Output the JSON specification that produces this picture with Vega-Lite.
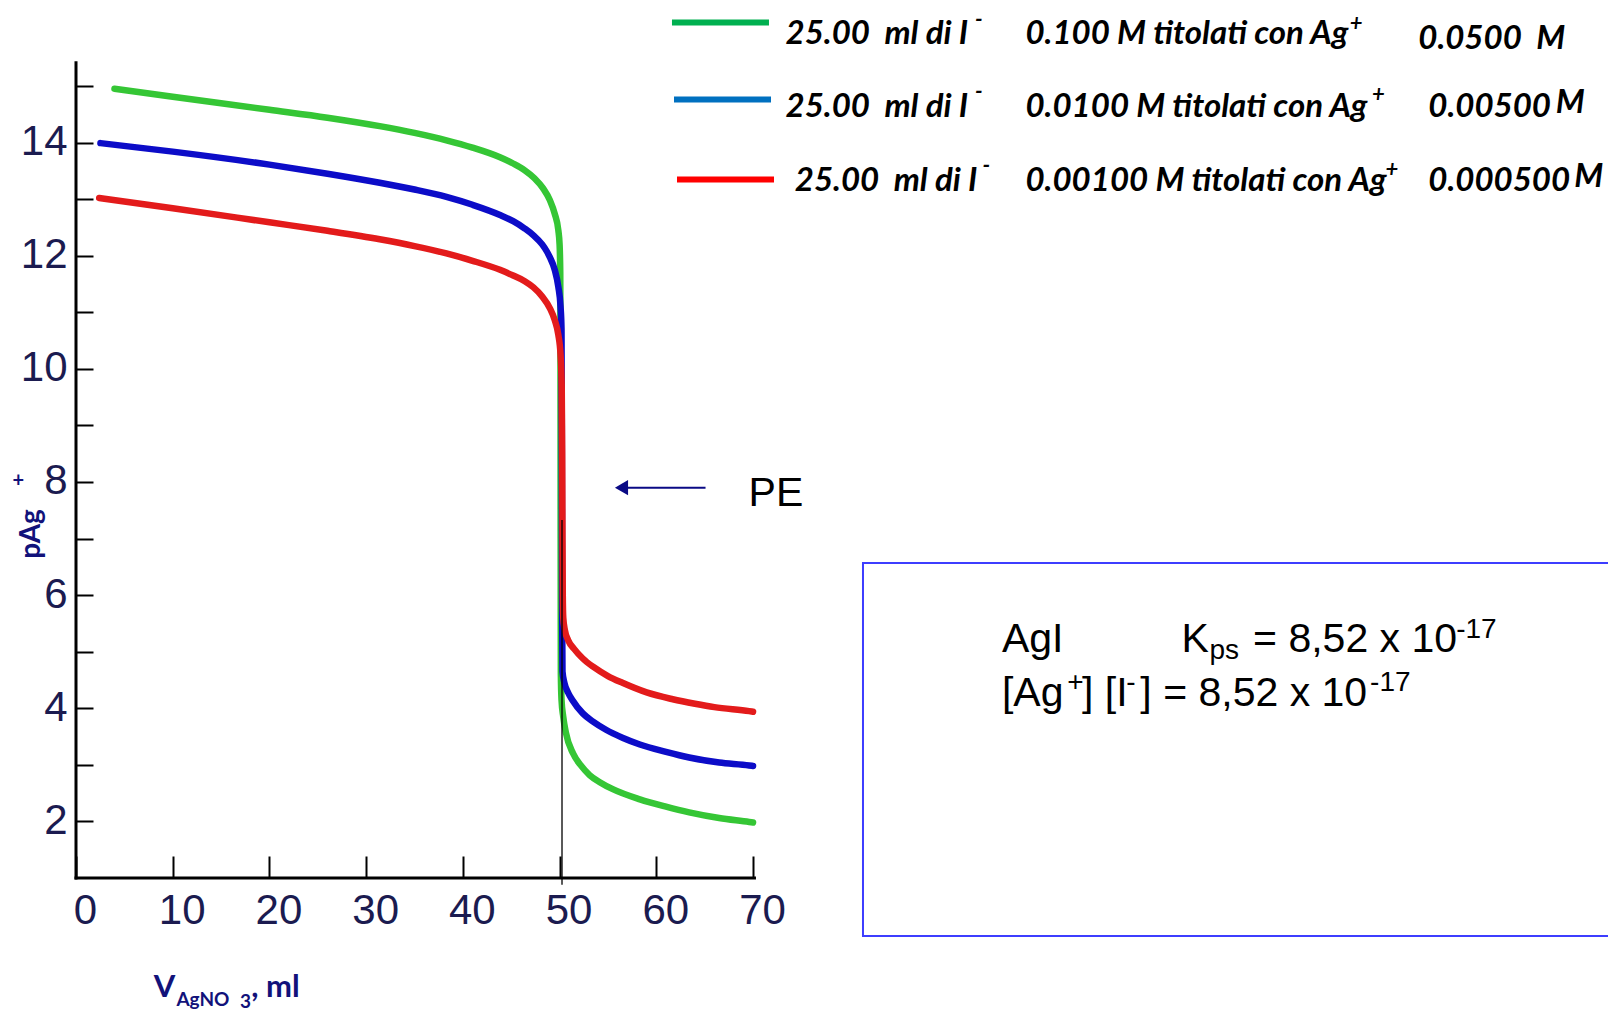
{
  "$schema": "https://vega.github.io/schema/vega-lite/v6.json",
  "width": 1532,
  "height": 878,
  "autosize": {"type": "none"},
  "padding": {"left": 76, "top": 0, "right": 0, "bottom": 134},
  "background": "white",
  "config": {"view": {"stroke": null}},
  "datasets": {
    "curves": [
      {"s": "g", "x": 3.98, "y": 14.95}, {"s": "g", "x": 10, "y": 14.81}, {"s": "g", "x": 20, "y": 14.58},
      {"s": "g", "x": 26, "y": 14.44}, {"s": "g", "x": 31.4, "y": 14.29}, {"s": "g", "x": 35, "y": 14.17},
      {"s": "g", "x": 38.3, "y": 14.04}, {"s": "g", "x": 41, "y": 13.91}, {"s": "g", "x": 43.84, "y": 13.74},
      {"s": "g", "x": 45.2, "y": 13.63}, {"s": "g", "x": 46.4, "y": 13.51}, {"s": "g", "x": 47.4, "y": 13.37},
      {"s": "g", "x": 48.3, "y": 13.19}, {"s": "g", "x": 49.0, "y": 12.98}, {"s": "g", "x": 49.5, "y": 12.74},
      {"s": "g", "x": 49.87, "y": 12.45}, {"s": "g", "x": 50.0, "y": 12.2}, {"s": "g", "x": 50.07, "y": 11.7},
      {"s": "g", "x": 50.09, "y": 10.5}, {"s": "g", "x": 50.1, "y": 9.0}, {"s": "g", "x": 50.11, "y": 7.0},
      {"s": "g", "x": 50.12, "y": 5.5}, {"s": "g", "x": 50.13, "y": 4.6}, {"s": "g", "x": 50.2, "y": 4.15},
      {"s": "g", "x": 50.38, "y": 3.85}, {"s": "g", "x": 50.65, "y": 3.57}, {"s": "g", "x": 51.4, "y": 3.2},
      {"s": "g", "x": 52.2, "y": 2.99}, {"s": "g", "x": 53.1, "y": 2.82}, {"s": "g", "x": 54.2, "y": 2.69},
      {"s": "g", "x": 55.5, "y": 2.57}, {"s": "g", "x": 58.3, "y": 2.39}, {"s": "g", "x": 61, "y": 2.26},
      {"s": "g", "x": 63.4, "y": 2.16}, {"s": "g", "x": 66.5, "y": 2.06}, {"s": "g", "x": 69.6, "y": 1.99},
      {"s": "g", "x": 70, "y": 1.98},
      {"s": "b", "x": 2.53, "y": 13.99}, {"s": "b", "x": 10, "y": 13.84}, {"s": "b", "x": 20, "y": 13.61},
      {"s": "b", "x": 26, "y": 13.45}, {"s": "b", "x": 31.4, "y": 13.29}, {"s": "b", "x": 35, "y": 13.17},
      {"s": "b", "x": 38.3, "y": 13.04}, {"s": "b", "x": 41, "y": 12.9}, {"s": "b", "x": 43.84, "y": 12.72},
      {"s": "b", "x": 45.2, "y": 12.61}, {"s": "b", "x": 46.4, "y": 12.48}, {"s": "b", "x": 47.3, "y": 12.36},
      {"s": "b", "x": 48.2, "y": 12.2}, {"s": "b", "x": 48.7, "y": 12.07}, {"s": "b", "x": 49.0, "y": 11.97},
      {"s": "b", "x": 49.5, "y": 11.75}, {"s": "b", "x": 49.87, "y": 11.45}, {"s": "b", "x": 50.1, "y": 11.1},
      {"s": "b", "x": 50.2, "y": 10.7}, {"s": "b", "x": 50.23, "y": 9.0}, {"s": "b", "x": 50.25, "y": 7.0},
      {"s": "b", "x": 50.27, "y": 5.5}, {"s": "b", "x": 50.3, "y": 4.65}, {"s": "b", "x": 50.5, "y": 4.45},
      {"s": "b", "x": 50.9, "y": 4.27}, {"s": "b", "x": 51.3, "y": 4.15}, {"s": "b", "x": 52.4, "y": 3.91},
      {"s": "b", "x": 53.5, "y": 3.76}, {"s": "b", "x": 54.8, "y": 3.62}, {"s": "b", "x": 56.5, "y": 3.48},
      {"s": "b", "x": 58.3, "y": 3.36}, {"s": "b", "x": 61, "y": 3.23}, {"s": "b", "x": 63.4, "y": 3.13},
      {"s": "b", "x": 66.5, "y": 3.04}, {"s": "b", "x": 69.6, "y": 2.99}, {"s": "b", "x": 70, "y": 2.98},
      {"s": "r", "x": 2.4, "y": 13.02}, {"s": "r", "x": 10, "y": 12.84}, {"s": "r", "x": 20, "y": 12.59},
      {"s": "r", "x": 26, "y": 12.44}, {"s": "r", "x": 31.4, "y": 12.29}, {"s": "r", "x": 35, "y": 12.17},
      {"s": "r", "x": 38.3, "y": 12.04}, {"s": "r", "x": 41, "y": 11.91}, {"s": "r", "x": 43.84, "y": 11.75},
      {"s": "r", "x": 45.2, "y": 11.65}, {"s": "r", "x": 46.4, "y": 11.55}, {"s": "r", "x": 47.3, "y": 11.44},
      {"s": "r", "x": 48.2, "y": 11.28}, {"s": "r", "x": 49.0, "y": 11.07}, {"s": "r", "x": 49.5, "y": 10.86},
      {"s": "r", "x": 49.87, "y": 10.6}, {"s": "r", "x": 50.1, "y": 10.25}, {"s": "r", "x": 50.22, "y": 9.7},
      {"s": "r", "x": 50.27, "y": 8.5}, {"s": "r", "x": 50.3, "y": 7.0}, {"s": "r", "x": 50.33, "y": 6.0},
      {"s": "r", "x": 50.38, "y": 5.6}, {"s": "r", "x": 50.55, "y": 5.38}, {"s": "r", "x": 50.9, "y": 5.2},
      {"s": "r", "x": 51.5, "y": 5.05}, {"s": "r", "x": 52.4, "y": 4.88}, {"s": "r", "x": 53.5, "y": 4.73},
      {"s": "r", "x": 55, "y": 4.57}, {"s": "r", "x": 56.5, "y": 4.45}, {"s": "r", "x": 59, "y": 4.28},
      {"s": "r", "x": 61.7, "y": 4.16}, {"s": "r", "x": 64, "y": 4.08}, {"s": "r", "x": 66, "y": 4.02},
      {"s": "r", "x": 69.6, "y": 3.95}, {"s": "r", "x": 70, "y": 3.94}
    ],
    "legendLines": [
      {"s": "lg", "x": 61.62, "x2": 71.65, "y": 16.121},
      {"s": "lb", "x": 61.83, "x2": 71.86, "y": 14.762},
      {"s": "lr", "x": 62.14, "x2": 72.17, "y": 13.348}
    ],
    "legendMain": [
      {"x": 73.36, "y": 15.743, "t": "25.00\u00a0 ml di I"},
      {"x": 98.17, "y": 15.743, "t": "0.100 M titolati con Ag"},
      {"x": 138.78, "y": 15.651, "t": "0.0500\u00a0 M"},
      {"x": 73.36, "y": 14.452, "t": "25.00\u00a0 ml di I"},
      {"x": 98.17, "y": 14.452, "t": "0.0100 M titolati con Ag"},
      {"x": 139.82, "y": 14.452, "t": "0.00500"},
      {"x": 152.99, "y": 14.527, "t": "M"},
      {"x": 74.32, "y": 13.149, "t": "25.00\u00a0 ml di I"},
      {"x": 98.17, "y": 13.149, "t": "0.00100 M titolati con Ag"},
      {"x": 139.82, "y": 13.149, "t": "0.000500"},
      {"x": 154.9, "y": 13.222, "t": "M"}
    ],
    "legendSup": [
      {"x": 92.95, "y": 16.035, "t": "-"},
      {"x": 92.95, "y": 14.765, "t": "-"},
      {"x": 93.72, "y": 13.463, "t": "-"},
      {"x": 131.7, "y": 15.98, "t": "+"},
      {"x": 134.0, "y": 14.712, "t": "+"},
      {"x": 135.4, "y": 13.392, "t": "+"}
    ],
    "boxMain": [
      {"x": 95.74, "y": 4.995, "t": "AgI"},
      {"x": 114.29, "y": 4.995, "t": "K"},
      {"x": 121.7, "y": 4.995, "t": "= 8,52 x 10"},
      {"x": 95.74, "y": 4.049, "t": "[Ag"},
      {"x": 104.01, "y": 4.049, "t": "] [I"},
      {"x": 110.05, "y": 4.049, "t": "] = 8,52 x 10"},
      {"x": 69.54, "y": 7.583, "t": "PE"}
    ],
    "boxSmall": [
      {"x": 142.7, "y": 5.251, "t": "-17"},
      {"x": 117.2, "y": 4.864, "t": "ps"},
      {"x": 102.5, "y": 4.306, "t": "+"},
      {"x": 108.6, "y": 4.306, "t": "-"},
      {"x": 133.8, "y": 4.306, "t": "-17"}
    ],
    "titleMain": [
      {"x": 8.04, "y": -1.104, "t": "V"},
      {"x": 18.12, "y": -1.104, "t": ", ml"}
    ],
    "titleSub": [
      {"x": 10.38, "y": -1.26, "t": "AgNO"},
      {"x": 16.96, "y": -1.3, "t": "3"}
    ],
    "ytitle": [{"x": -3.72, "y": 7.081, "t": "pAg"}],
    "ytitleSup": [{"x": -5.97, "y": 8.023, "t": "+"}],
    "hAxis": [{"x": 0, "x2": 70.15, "y": 1}],
    "vAxis": [{"x": 0, "y": 1, "y2": 15.41}],
    "peLine": [{"x": 50.25, "y": 0.88, "y2": 7.33}],
    "arrow": [{"x": 65.09, "x2": 56.8, "y": 7.9}],
    "arrowHead": [{"x": 56.4, "y": 7.9}],
    "box": [{"x": 81.37, "x2": 165, "y": -0.025, "y2": 6.568}]
  },
  "encoding": {
    "x": {
      "field": "x", "type": "quantitative",
      "scale": {"domain": [0, 158.4], "nice": false, "zero": false},
      "axis": {
        "values": [0, 10, 20, 30, 40, 50, 60, 70],
        "domain": false, "grid": false, "title": null,
        "tickSize": -22, "tickWidth": 2, "tickColor": "#000000",
        "labelFont": "Liberation Sans", "labelFontSize": 42, "labelColor": "#1b1b50",
        "labelPadding": 67, "labelBaseline": "alphabetic", "labelOffset": 9,
        "labelFlush": false, "labelOverlap": false, "labelBound": false
      }
    },
    "y": {
      "field": "y", "type": "quantitative",
      "scale": {"domain": [1, 16.52], "nice": false, "zero": false},
      "axis": {
        "values": [2, 3, 4, 5, 6, 7, 8, 9, 10, 11, 12, 13, 14, 15],
        "labelExpr": "datum.value % 2 == 0 ? datum.label : ''",
        "domain": false, "grid": false, "title": null,
        "tickSize": -17, "tickWidth": 2, "tickColor": "#000000",
        "labelFont": "Liberation Sans", "labelFontSize": 42, "labelColor": "#1b1b50",
        "labelPadding": 26, "labelBaseline": "alphabetic", "labelOffset": 12,
        "labelFlush": false, "labelOverlap": false, "labelBound": false
      }
    }
  },
  "layer": [
    {
      "data": {"name": "box"},
      "mark": {"type": "rect", "fillOpacity": 0, "stroke": "#3d3dff", "strokeWidth": 2},
      "encoding": {"x2": {"field": "x2"}, "y2": {"field": "y2"}}
    },
    {
      "data": {"name": "hAxis"},
      "mark": {"type": "rule", "color": "#000000", "strokeWidth": 3, "strokeCap": "square"},
      "encoding": {"x2": {"field": "x2"}}
    },
    {
      "data": {"name": "vAxis"},
      "mark": {"type": "rule", "color": "#000000", "strokeWidth": 3, "strokeCap": "square"},
      "encoding": {"y2": {"field": "y2"}}
    },
    {
      "data": {"name": "curves"},
      "mark": {"type": "line", "interpolate": "monotone", "strokeWidth": 6.5, "strokeCap": "round", "strokeJoin": "round"},
      "encoding": {
        "color": {"field": "s", "type": "nominal", "legend": null,
          "scale": {"domain": ["g", "b", "r", "lg", "lb", "lr"],
                    "range": ["#35c635", "#0c0cc8", "#e31b1b", "#00b050", "#0070c0", "#ff0000"]}}
      }
    },
    {
      "data": {"name": "peLine"},
      "mark": {"type": "rule", "color": "#000000", "strokeWidth": 1.3},
      "encoding": {"y2": {"field": "y2"}}
    },
    {
      "data": {"name": "legendLines"},
      "mark": {"type": "rule", "strokeWidth": 6},
      "encoding": {
        "x2": {"field": "x2"},
        "color": {"field": "s", "type": "nominal", "legend": null}
      }
    },
    {
      "data": {"name": "arrow"},
      "mark": {"type": "rule", "color": "#0a0a85", "strokeWidth": 2},
      "encoding": {"x2": {"field": "x2"}}
    },
    {
      "data": {"name": "arrowHead"},
      "mark": {"type": "point", "shape": "triangle-left", "filled": true, "color": "#0a0a85", "size": 230, "opacity": 1},
      "encoding": {}
    },
    {
      "data": {"name": "legendMain"},
      "mark": {"type": "text", "font": "Lato", "fontSize": 33, "fontWeight": "bold", "fontStyle": "italic", "align": "left", "baseline": "alphabetic", "color": "#000000"},
      "encoding": {"text": {"field": "t"}}
    },
    {
      "data": {"name": "legendSup"},
      "mark": {"type": "text", "font": "Lato", "fontSize": 22, "fontWeight": "bold", "fontStyle": "italic", "align": "left", "baseline": "alphabetic", "color": "#000000"},
      "encoding": {"text": {"field": "t"}}
    },
    {
      "data": {"name": "boxMain"},
      "mark": {"type": "text", "font": "Liberation Sans", "fontSize": 41, "align": "left", "baseline": "alphabetic", "color": "#000000"},
      "encoding": {"text": {"field": "t"}}
    },
    {
      "data": {"name": "boxSmall"},
      "mark": {"type": "text", "font": "Liberation Sans", "fontSize": 28, "align": "left", "baseline": "alphabetic", "color": "#000000"},
      "encoding": {"text": {"field": "t"}}
    },
    {
      "data": {"name": "titleMain"},
      "mark": {"type": "text", "font": "Lato", "fontSize": 31, "fontWeight": "bold", "align": "left", "baseline": "alphabetic", "color": "#12127a"},
      "encoding": {"text": {"field": "t"}}
    },
    {
      "data": {"name": "titleSub"},
      "mark": {"type": "text", "font": "Lato", "fontSize": 19, "fontWeight": "bold", "align": "left", "baseline": "alphabetic", "color": "#12127a"},
      "encoding": {"text": {"field": "t"}}
    },
    {
      "data": {"name": "ytitle"},
      "mark": {"type": "text", "font": "Lato", "fontSize": 28, "fontWeight": "bold", "angle": 270, "align": "center", "baseline": "alphabetic", "color": "#12127a"},
      "encoding": {"text": {"field": "t"}}
    },
    {
      "data": {"name": "ytitleSup"},
      "mark": {"type": "text", "font": "Lato", "fontSize": 20, "fontWeight": "bold", "align": "center", "baseline": "middle", "color": "#12127a"},
      "encoding": {"text": {"field": "t"}}
    }
  ]
}
